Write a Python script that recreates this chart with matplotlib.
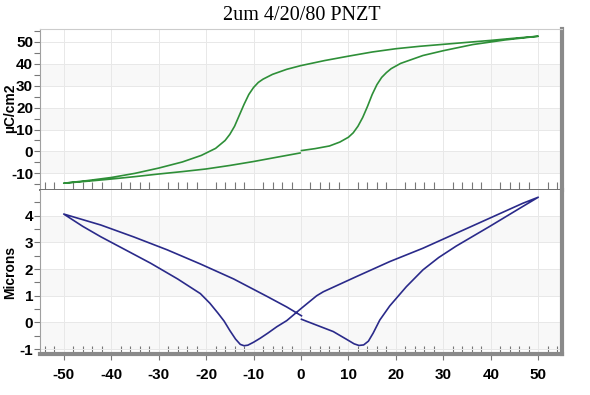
import matplotlib
matplotlib.use("Agg")
import matplotlib.pyplot as plt
from matplotlib.ticker import MultipleLocator

# polarisation loop (field in V, P in uC/cm2), in the order it was traced
pol_field = [0.1, 3, 6, 8.2, 10, 11, 12, 13, 14, 15, 16, 17, 18, 19, 21, 25.7, 30, 36.2, 43, 50,
             45, 40, 35, 30, 25, 20, 15, 10, 5, 0, -3, -6, -8, -9, -10, -11, -12, -13, -14, -15, -16, -18,
             -21, -25, -30, -35, -40, -45, -50,
             -45, -40, -35, -30, -25, -20, -15, -10, -5, -0.2]
pol_value = [0.4, 1.3, 2.5, 4.3, 6.5, 8.5, 11.5, 15.5, 20.5, 26.0, 30.5, 33.8, 36.0, 37.8, 40.2, 43.8, 46.0, 48.8, 50.9, 52.6,
             51.7, 50.7, 49.8, 48.9, 48.0, 46.9, 45.4, 43.5, 41.5, 39.2, 37.5, 35.2, 33.0, 31.5, 29.2, 26.0, 21.5,
             16.5, 11.5, 7.8, 5.0, 1.4, -1.8, -4.8, -7.6, -10.0, -11.9, -13.3, -14.5,
             -13.6, -12.6, -11.5, -10.3, -9.2, -8.0, -6.4, -4.6, -2.6, -0.7]

# strain loop (field in V, displacement in microns)
str_field = [0.1, 3, 6.8, 9.5, 11.2, 12.2, 13.2, 14.2, 15.2, 16.6, 18.7, 22.2, 25.7, 29, 32.7, 39.7, 46.7, 50,
             46.7, 39.7, 32.7, 25.7, 18.7, 11.7, 4.7, 3.3, 0, -1, -3, -5.1, -7, -8.6, -10, -11.2, -12,
             -12.8, -13.8, -15, -16.2, -17.5, -19.2, -21.2, -26, -31.7, -37, -42.2, -46, -50,
             -42.2, -35.2, -28.2, -21.2, -14.2, -7.2, -3, 0.1]
str_value = [0.12, -0.08, -0.34, -0.62, -0.8, -0.86, -0.84, -0.7, -0.4, 0.09, 0.62, 1.34, 1.97, 2.43, 2.86, 3.59, 4.34, 4.69,
             4.46, 3.9, 3.34, 2.78, 2.28, 1.72, 1.15, 1.0, 0.52, 0.37, 0.07, -0.16, -0.4, -0.59, -0.74, -0.85, -0.87,
             -0.82, -0.62, -0.3, 0.05, 0.35, 0.72, 1.08, 1.63, 2.22, 2.72, 3.21, 3.6, 4.06,
             3.65, 3.2, 2.72, 2.19, 1.63, 0.98, 0.58, 0.25]

x_ticks = [-50, -40, -30, -20, -10, 0, 10, 20, 30, 40, 50]
pol_ticks = [-10, 0, 10, 20, 30, 40, 50]
str_ticks = [-1, 0, 1, 2, 3, 4]
pol_bands = [(30, 40), (10, 20), (-10, 0)]
str_bands = [(3, 4), (1, 2), (-1, 0)]

W, H = 590, 395
fig = plt.figure(figsize=(W / 100, H / 100), dpi=100)
fig.patch.set_facecolor("white")

def px_axes(l, t, r, b):
    return fig.add_axes([l / W, 1 - b / H, (r - l) / W, (b - t) / H])

ax1 = px_axes(40, 29, 562, 190)
ax2 = px_axes(40, 190, 562, 354)

tick_font = dict(family="Liberation Sans", weight="bold", size=11)

for ax, bands in ((ax1, pol_bands), (ax2, str_bands)):
    for lo, hi in bands:
        ax.axhspan(lo, hi, color="#f8f8f8", lw=0, zorder=0)
    ax.grid(True, which="major", color="#e8e8e8", lw=0.7, zorder=0.5)
    ax.set_xlim(-55, 55)
    ax.xaxis.set_major_locator(MultipleLocator(10))
    ax.xaxis.set_minor_locator(MultipleLocator(2))
    ax.spines["left"].set_color("#a0a0a0")
    ax.spines["right"].set_color("#8a8a8a")
    ax.spines["right"].set_linewidth(3)
    ax.tick_params(axis="y", which="both", direction="out", length=4, width=0.8,
                   color="#777777", pad=1)
    ax.tick_params(axis="x", which="minor", direction="in", length=6, width=0.8, color="#777777")

ax1.plot(pol_field, pol_value, color="#2e8f38", lw=1.2, zorder=3)
ax1.set_ylim(-17.6, 55.9)
ax1.set_yticks(pol_ticks)
ax1.yaxis.set_minor_locator(MultipleLocator(5))
ax1.set_yticklabels([str(v) for v in pol_ticks], **tick_font)
ax1.tick_params(axis="x", which="major", length=0, labelbottom=False)
ax1.spines["top"].set_color("#cccccc")
ax1.spines["bottom"].set_color("#707070")
ax1.spines["bottom"].set_linewidth(1.4)

ax2.plot(str_field, str_value, color="#2a2a8a", lw=1.2, zorder=3)
ax2.set_ylim(-1.18, 4.96)
ax2.set_yticks(str_ticks)
ax2.yaxis.set_minor_locator(MultipleLocator(0.5))
ax2.set_yticklabels([str(v) for v in str_ticks], **tick_font)
ax2.set_xticks(x_ticks)
ax2.set_xticklabels([str(v) for v in x_ticks], **tick_font)
ax2.tick_params(axis="x", which="major", direction="out", length=4, width=0.8, color="#777777", pad=6)
ax2.spines["top"].set_visible(False)
ax2.spines["bottom"].set_color("#8a8a8a")
ax2.spines["bottom"].set_linewidth(3)

fig.text(302 / W, 1 - 15 / H, "2um 4/20/80 PNZT", ha="center", va="center",
         family="Liberation Serif", size=14.5)
fig.text(10 / W, 1 - 108 / H, "µC/cm2", rotation=90, ha="center", va="center",
         family="Liberation Sans", weight="bold", size=10)
fig.text(10 / W, 1 - 272 / H, "Microns", rotation=90, ha="center", va="center",
         family="Liberation Sans", weight="bold", size=10)

fig.savefig("out.png", dpi=100)
